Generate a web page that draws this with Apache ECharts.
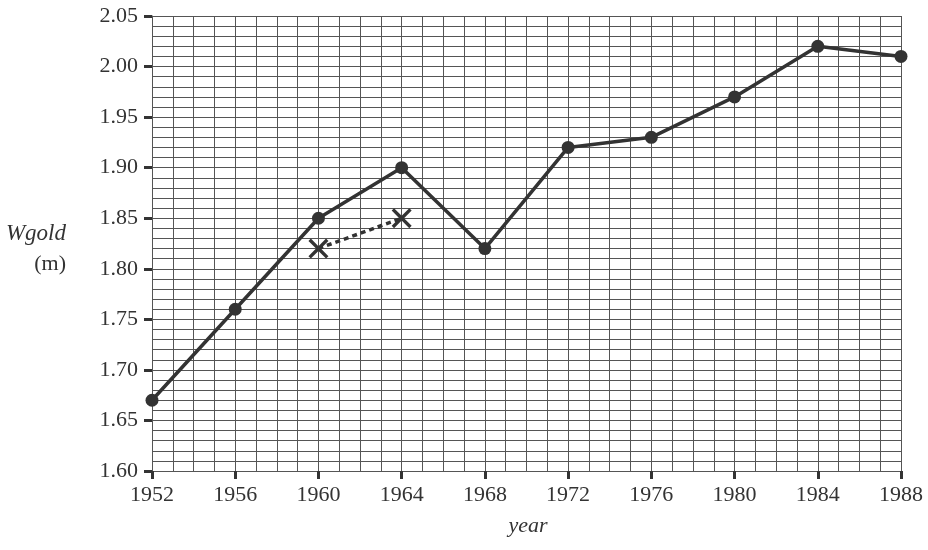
<!DOCTYPE html>
<html lang="en">

<head>
    <meta charset="UTF-8">
    <title>Wgold by year</title>
    <script src="https://cdn.jsdelivr.net/npm/echarts@6/dist/echarts.min.js"></script>
    <style>
        html, body { margin: 0; padding: 0; background: #fff; }
        #mChart { width: 928px; height: 550px; }
    </style>
</head>

<body>
    <div id="mChart"></div>

    <script type="text/javascript">
        // winning heights, solid line
        const years = [1952, 1956, 1960, 1964, 1968, 1972, 1976, 1980, 1984, 1988]
        const wgold = [1.67, 1.76, 1.85, 1.90, 1.82, 1.92, 1.93, 1.97, 2.02, 2.01]
        // crossed points joined by the dashed line
        const crossYears = [1960, 1964]
        const crossValues = [1.82, 1.85]

        const font = 'Liberation Serif'
        const ink = '#333'
        const gridColor = '#555'

        const crossPath = 'path://M0,1.2 L1.2,0 L5,3.8 L8.8,0 L10,1.2 L6.2,5 L10,8.8 L8.8,10 L5,6.2 L1.2,10 L0,8.8 L3.8,5 Z'

        var mChart = echarts.init(document.getElementById('mChart'))

        mChart.setOption({
            animation: false,
            grid: { left: 152, right: 27, top: 16, bottom: 79 },
            xAxis: {
                type: 'value',
                min: 1952,
                max: 1988,
                interval: 4,
                axisLine: { show: true, lineStyle: { color: gridColor, width: 1 } },
                axisTick: { show: true, length: 8, lineStyle: { color: ink, width: 3 } },
                axisLabel: {
                    color: ink, fontFamily: font, fontSize: 22, margin: 13,
                    formatter: v => String(v)
                },
                splitLine: { show: true, lineStyle: { color: gridColor, width: 1 } },
                minorTick: { show: false, splitNumber: 4 },
                minorSplitLine: { show: true, lineStyle: { color: gridColor, width: 1 } }
            },
            yAxis: {
                type: 'value',
                min: 1.6,
                max: 2.05,
                interval: 0.05,
                axisLine: { show: true, lineStyle: { color: gridColor, width: 1 } },
                axisTick: { show: true, length: 8, lineStyle: { color: ink, width: 3 } },
                axisLabel: {
                    color: ink, fontFamily: font, fontSize: 22, margin: 14,
                    formatter: v => v.toFixed(2)
                },
                splitLine: { show: true, lineStyle: { color: gridColor, width: 1 } },
                minorTick: { show: false, splitNumber: 5 },
                minorSplitLine: { show: true, lineStyle: { color: gridColor, width: 1 } }
            },
            graphic: [
                { type: 'text', x: 66, y: 222, style: { text: 'Wgold', align: 'right', font: 'italic 23px "Liberation Serif"', fill: ink } },
                { type: 'text', x: 66, y: 253, style: { text: '(m)', align: 'right', font: '22px "Liberation Serif"', fill: ink } },
                { type: 'text', x: 528, y: 515, style: { text: 'year', align: 'center', font: 'italic 22px "Liberation Serif"', fill: ink } }
            ],
            series: [
                {
                    type: 'line',
                    data: years.map((y, i) => [y, wgold[i]]),
                    symbol: 'circle',
                    symbolSize: 13,
                    lineStyle: { color: ink, width: 3.5 },
                    itemStyle: { color: ink },
                    z: 3
                },
                {
                    type: 'line',
                    data: crossYears.map((y, i) => [y, crossValues[i]]),
                    symbol: crossPath,
                    symbolSize: 20,
                    lineStyle: { color: ink, width: 3.5, type: [5, 4] },
                    itemStyle: { color: ink },
                    z: 3
                }
            ]
        })
    </script>
</body>

</html>
